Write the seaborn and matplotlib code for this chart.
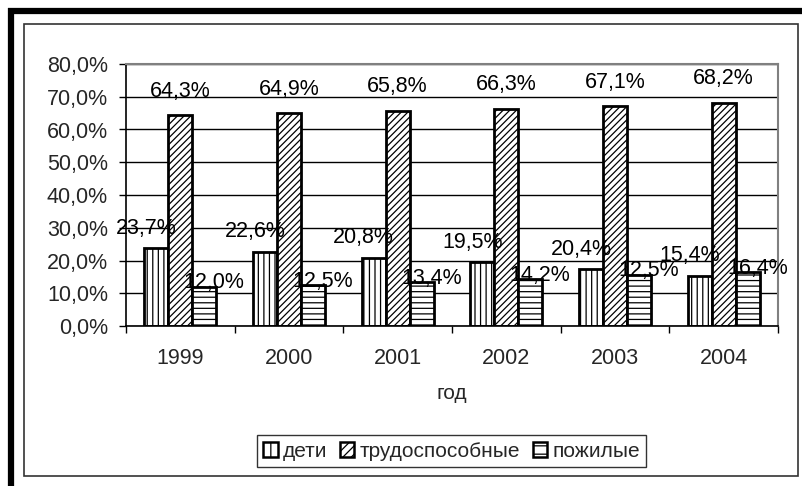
import matplotlib
matplotlib.use("Agg")
import matplotlib.pyplot as plt
import seaborn as sns
import pandas as pd
import numpy as np
from matplotlib.patches import Rectangle
from matplotlib.lines import Line2D

years = ["1999", "2000", "2001", "2002", "2003", "2004"]
series = ["дети", "трудоспособные", "пожилые"]
deti = [23.7, 22.6, 20.8, 19.5, 17.3, 15.4]
trudo = [64.3, 64.9, 65.8, 66.3, 67.1, 68.2]
pozh = [12.0, 12.5, 13.4, 14.2, 15.6, 16.4]
deti_labels = [23.7, 22.6, 20.8, 19.5, 20.4, 15.4]
trudo_labels = [64.3, 64.9, 65.8, 66.3, 67.1, 68.2]
pozh_labels = [12.0, 12.5, 13.4, 14.2, 12.5, 16.4]
yticks = [0, 10, 20, 30, 40, 50, 60, 70, 80]
xlabel = "год"

sns.set_theme(style="white")
plt.rcParams["font.family"] = ["Liberation Sans", "DejaVu Sans"]
plt.rcParams["hatch.linewidth"] = 0.9

df = pd.DataFrame({
    "год": years * 3,
    "серия": [s for s in series for _ in years],
    "value": deti + trudo + pozh,
})

fig = plt.figure(figsize=(8.02, 4.86), dpi=100)
ax = fig.add_axes([126 / 802, 1 - 326 / 486, (778 - 126) / 802, (326 - 64) / 486])

sns.barplot(data=df, x="год", y="value", hue="серия", hue_order=series,
            order=years, width=0.66, gap=0, palette=["white"] * 3,
            edgecolor="black", linewidth=2, ax=ax, legend=False, zorder=2)

hatches = ["|||", "/////", "---"]
for cont, h in zip(ax.containers, hatches):
    for bar in cont:
        bar.set_hatch(h)
        bar.set_facecolor("white")
        bar.set_edgecolor("black")
        bar.set_zorder(2)

ax.set_ylim(0, 80)
ax.set_xlim(-0.5, len(years) - 0.5)
ax.set_yticks(yticks)
ax.set_yticklabels([f"{v:.1f}%".replace(".", ",") for v in yticks])
ax.yaxis.grid(True, color="black", linewidth=1, zorder=0.5)
ax.set_axisbelow(True)
ax.set_xlabel("")
ax.set_ylabel("")

for side in ["top", "right"]:
    ax.spines[side].set_color("#808080")
    ax.spines[side].set_linewidth(1.5)
for side in ["left", "bottom"]:
    ax.spines[side].set_color("black")
    ax.spines[side].set_linewidth(1.2)

ax.tick_params(axis="y", which="major", length=5, width=1, color="black",
               pad=8, labelsize=15.5, direction="out", left=True)
ax.set_xticks(range(len(years)))
ax.set_xticklabels(years)
ax.set_xticks(np.arange(-0.5, len(years), 1.0), minor=True)
ax.tick_params(axis="x", which="major", length=0, pad=16, labelsize=15.5)
ax.tick_params(axis="x", which="minor", length=5, width=1, color="black",
               direction="out", bottom=True)

fmt = lambda v: f"{v:.1f}%".replace(".", ",")
label_sets = [
    (deti_labels, -10, 20, 4),
    (trudo_labels, 0, 24, 4),
    (pozh_labels, 10, 4, 4),
]
for cont, (labs, dx, dy, z) in zip(ax.containers, label_sets):
    for bar, lab in zip(cont, labs):
        xc = bar.get_x() + bar.get_width() / 2
        top = bar.get_height()
        ax.annotate(fmt(lab), xy=(xc, top), xytext=(dx * 0.72, dy * 0.72),
                    textcoords="offset points", ha="center", va="center",
                    fontsize=15.5, zorder=z, color="black")

fig.text(452 / 802, 1 - 393 / 486, xlabel, ha="center", va="center", fontsize=15)

handles = [Rectangle((0, 0), 1, 1, facecolor="white", edgecolor="black",
                     hatch=h, linewidth=1.8) for h in ["||", "////", "--"]]
leg = fig.legend(handles, series, loc="center", bbox_to_anchor=(451.5 / 802, 1 - 451 / 486),
                 ncol=3, frameon=True, fontsize=15, handlelength=0.7, handleheight=0.7,
                 handletextpad=0.25, columnspacing=0.6, borderpad=0.3, fancybox=False)
leg.get_frame().set_edgecolor("black")
leg.get_frame().set_linewidth(1)

# outer frames
fig.add_artist(Rectangle((24 / 802, 1 - 476 / 486), (798 - 24) / 802, (476 - 24) / 486,
                         transform=fig.transFigure, fill=False, edgecolor="#333333",
                         linewidth=1.2))
fig.add_artist(Line2D([11 / 802, 11 / 802], [0, 1 - 8 / 486], transform=fig.transFigure,
                      color="black", linewidth=4.5, solid_capstyle="butt"))
fig.add_artist(Line2D([8 / 802, 1], [1 - 11 / 486, 1 - 11 / 486], transform=fig.transFigure,
                      color="black", linewidth=4.5, solid_capstyle="butt"))

fig.savefig("out.png", dpi=100)
